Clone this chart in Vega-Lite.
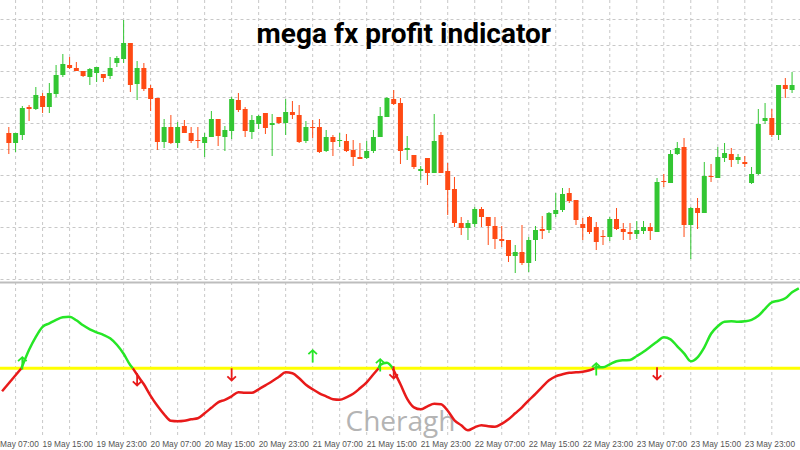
{
"$schema":"https://vega.github.io/schema/vega-lite/v6.json",
"width":800,"height":450,
"autosize":{"type":"none"},
"padding":0,
"background":"#ffffff",
"config":{"view":{"stroke":null}},
"datasets":{
"c":[
{"t":"2020-05-19T10:00","o":1167,"h":1173,"l":1146,"c":1157},
{"t":"2020-05-19T11:00","o":1157,"h":1167,"l":1148,"c":1167},
{"t":"2020-05-19T12:00","o":1165,"h":1194,"l":1160,"c":1192},
{"t":"2020-05-19T13:00","o":1193,"h":1195,"l":1179,"c":1191},
{"t":"2020-05-19T14:00","o":1191,"h":1213,"l":1190,"c":1205},
{"t":"2020-05-19T15:00","o":1204,"h":1207,"l":1187,"c":1193},
{"t":"2020-05-19T16:00","o":1193,"h":1217,"l":1187,"c":1207},
{"t":"2020-05-19T17:00","o":1206,"h":1235,"l":1203,"c":1225},
{"t":"2020-05-19T18:00","o":1225,"h":1246,"l":1223,"c":1236},
{"t":"2020-05-19T19:00","o":1235,"h":1243,"l":1231,"c":1232},
{"t":"2020-05-19T20:00","o":1232,"h":1238,"l":1229,"c":1229},
{"t":"2020-05-19T21:00","o":1229,"h":1229,"l":1223,"c":1224},
{"t":"2020-05-19T22:00","o":1223,"h":1232,"l":1215,"c":1231},
{"t":"2020-05-19T23:00","o":1227,"h":1233,"l":1218,"c":1233},
{"t":"2020-05-20T00:00","o":1226,"h":1226,"l":1218,"c":1222},
{"t":"2020-05-20T01:00","o":1224,"h":1243,"l":1221,"c":1232},
{"t":"2020-05-20T02:00","o":1237,"h":1244,"l":1233,"c":1242},
{"t":"2020-05-20T03:00","o":1241,"h":1280,"l":1237,"c":1257},
{"t":"2020-05-20T04:00","o":1257,"h":1257,"l":1208,"c":1215},
{"t":"2020-05-20T05:00","o":1216,"h":1239,"l":1200,"c":1232},
{"t":"2020-05-20T06:00","o":1232,"h":1237,"l":1209,"c":1211},
{"t":"2020-05-20T07:00","o":1212,"h":1215,"l":1189,"c":1201},
{"t":"2020-05-20T08:00","o":1202,"h":1202,"l":1150,"c":1158},
{"t":"2020-05-20T09:00","o":1158,"h":1181,"l":1152,"c":1173},
{"t":"2020-05-20T10:00","o":1173,"h":1185,"l":1156,"c":1157},
{"t":"2020-05-20T11:00","o":1157,"h":1178,"l":1152,"c":1173},
{"t":"2020-05-20T12:00","o":1174,"h":1180,"l":1167,"c":1167},
{"t":"2020-05-20T13:00","o":1167,"h":1173,"l":1157,"c":1159},
{"t":"2020-05-20T14:00","o":1160,"h":1173,"l":1152,"c":1159},
{"t":"2020-05-20T15:00","o":1157,"h":1167,"l":1143,"c":1163},
{"t":"2020-05-20T16:00","o":1163,"h":1189,"l":1163,"c":1181},
{"t":"2020-05-20T17:00","o":1181,"h":1181,"l":1154,"c":1164},
{"t":"2020-05-20T18:00","o":1163,"h":1174,"l":1149,"c":1170},
{"t":"2020-05-20T19:00","o":1169,"h":1203,"l":1161,"c":1201},
{"t":"2020-05-20T20:00","o":1200,"h":1207,"l":1188,"c":1190},
{"t":"2020-05-20T21:00","o":1191,"h":1193,"l":1163,"c":1169},
{"t":"2020-05-20T22:00","o":1168,"h":1185,"l":1161,"c":1180},
{"t":"2020-05-20T23:00","o":1176,"h":1185,"l":1171,"c":1184},
{"t":"2020-05-21T00:00","o":1187,"h":1187,"l":1166,"c":1172},
{"t":"2020-05-21T01:00","o":1175,"h":1186,"l":1144,"c":1177},
{"t":"2020-05-21T02:00","o":1183,"h":1183,"l":1176,"c":1177},
{"t":"2020-05-21T03:00","o":1177,"h":1201,"l":1165,"c":1188},
{"t":"2020-05-21T04:00","o":1188,"h":1199,"l":1181,"c":1185},
{"t":"2020-05-21T05:00","o":1185,"h":1195,"l":1157,"c":1158},
{"t":"2020-05-21T06:00","o":1159,"h":1179,"l":1157,"c":1173},
{"t":"2020-05-21T07:00","o":1173,"h":1180,"l":1162,"c":1172},
{"t":"2020-05-21T08:00","o":1173,"h":1181,"l":1147,"c":1148},
{"t":"2020-05-21T09:00","o":1149,"h":1170,"l":1148,"c":1163},
{"t":"2020-05-21T10:00","o":1163,"h":1165,"l":1144,"c":1158},
{"t":"2020-05-21T11:00","o":1159,"h":1167,"l":1153,"c":1160},
{"t":"2020-05-21T12:00","o":1159,"h":1166,"l":1148,"c":1149},
{"t":"2020-05-21T13:00","o":1150,"h":1160,"l":1134,"c":1143},
{"t":"2020-05-21T14:00","o":1143,"h":1157,"l":1141,"c":1141},
{"t":"2020-05-21T15:00","o":1142,"h":1159,"l":1141,"c":1149},
{"t":"2020-05-21T16:00","o":1149,"h":1170,"l":1147,"c":1163},
{"t":"2020-05-21T17:00","o":1163,"h":1193,"l":1163,"c":1184},
{"t":"2020-05-21T18:00","o":1183,"h":1203,"l":1183,"c":1202},
{"t":"2020-05-21T19:00","o":1201,"h":1210,"l":1195,"c":1196},
{"t":"2020-05-21T20:00","o":1197,"h":1202,"l":1136,"c":1149},
{"t":"2020-05-21T21:00","o":1150,"h":1164,"l":1140,"c":1152},
{"t":"2020-05-21T22:00","o":1145,"h":1145,"l":1131,"c":1133},
{"t":"2020-05-21T23:00","o":1129,"h":1134,"l":1120,"c":1131},
{"t":"2020-05-22T00:00","o":1142,"h":1142,"l":1115,"c":1127},
{"t":"2020-05-22T01:00","o":1127,"h":1186,"l":1127,"c":1159},
{"t":"2020-05-22T02:00","o":1165,"h":1168,"l":1127,"c":1127},
{"t":"2020-05-22T03:00","o":1129,"h":1137,"l":1085,"c":1110},
{"t":"2020-05-22T04:00","o":1111,"h":1123,"l":1073,"c":1077},
{"t":"2020-05-22T05:00","o":1077,"h":1083,"l":1065,"c":1072},
{"t":"2020-05-22T06:00","o":1072,"h":1080,"l":1060,"c":1077},
{"t":"2020-05-22T07:00","o":1076,"h":1093,"l":1073,"c":1091},
{"t":"2020-05-22T08:00","o":1091,"h":1093,"l":1073,"c":1083},
{"t":"2020-05-22T09:00","o":1083,"h":1083,"l":1055,"c":1074},
{"t":"2020-05-22T10:00","o":1074,"h":1083,"l":1051,"c":1061},
{"t":"2020-05-22T11:00","o":1061,"h":1074,"l":1053,"c":1059},
{"t":"2020-05-22T12:00","o":1060,"h":1060,"l":1038,"c":1044},
{"t":"2020-05-22T13:00","o":1044,"h":1055,"l":1027,"c":1048},
{"t":"2020-05-22T14:00","o":1048,"h":1075,"l":1035,"c":1037},
{"t":"2020-05-22T15:00","o":1037,"h":1063,"l":1028,"c":1060},
{"t":"2020-05-22T16:00","o":1060,"h":1074,"l":1039,"c":1070},
{"t":"2020-05-22T17:00","o":1071,"h":1084,"l":1061,"c":1069},
{"t":"2020-05-22T18:00","o":1070,"h":1088,"l":1067,"c":1087},
{"t":"2020-05-22T19:00","o":1086,"h":1107,"l":1083,"c":1090},
{"t":"2020-05-22T20:00","o":1090,"h":1112,"l":1088,"c":1106},
{"t":"2020-05-22T21:00","o":1107,"h":1112,"l":1097,"c":1099},
{"t":"2020-05-22T22:00","o":1100,"h":1100,"l":1075,"c":1080},
{"t":"2020-05-22T23:00","o":1076,"h":1082,"l":1060,"c":1072},
{"t":"2020-05-23T00:00","o":1083,"h":1084,"l":1066,"c":1068},
{"t":"2020-05-23T01:00","o":1073,"h":1078,"l":1050,"c":1058},
{"t":"2020-05-23T02:00","o":1064,"h":1070,"l":1055,"c":1063},
{"t":"2020-05-23T03:00","o":1063,"h":1083,"l":1059,"c":1081},
{"t":"2020-05-23T04:00","o":1081,"h":1092,"l":1070,"c":1071},
{"t":"2020-05-23T05:00","o":1071,"h":1077,"l":1060,"c":1068},
{"t":"2020-05-23T06:00","o":1068,"h":1077,"l":1060,"c":1066},
{"t":"2020-05-23T07:00","o":1066,"h":1079,"l":1061,"c":1070},
{"t":"2020-05-23T08:00","o":1069,"h":1079,"l":1066,"c":1073},
{"t":"2020-05-23T09:00","o":1073,"h":1077,"l":1060,"c":1069},
{"t":"2020-05-23T10:00","o":1068,"h":1122,"l":1068,"c":1118},
{"t":"2020-05-23T11:00","o":1119,"h":1126,"l":1113,"c":1118},
{"t":"2020-05-23T12:00","o":1117,"h":1150,"l":1117,"c":1146},
{"t":"2020-05-23T13:00","o":1146,"h":1158,"l":1145,"c":1152},
{"t":"2020-05-23T14:00","o":1153,"h":1162,"l":1063,"c":1075},
{"t":"2020-05-23T15:00","o":1075,"h":1093,"l":1041,"c":1092},
{"t":"2020-05-23T16:00","o":1092,"h":1102,"l":1071,"c":1087},
{"t":"2020-05-23T17:00","o":1087,"h":1138,"l":1087,"c":1124},
{"t":"2020-05-23T18:00","o":1124,"h":1136,"l":1118,"c":1123},
{"t":"2020-05-23T19:00","o":1122,"h":1153,"l":1122,"c":1143},
{"t":"2020-05-23T20:00","o":1142,"h":1157,"l":1138,"c":1147},
{"t":"2020-05-23T21:00","o":1146,"h":1152,"l":1133,"c":1140},
{"t":"2020-05-23T22:00","o":1140,"h":1146,"l":1136,"c":1143},
{"t":"2020-05-23T23:00","o":1138,"h":1144,"l":1133,"c":1136},
{"t":"2020-05-24T00:00","o":1117,"h":1133,"l":1116,"c":1126},
{"t":"2020-05-24T01:00","o":1126,"h":1191,"l":1125,"c":1176},
{"t":"2020-05-24T02:00","o":1179,"h":1197,"l":1176,"c":1182},
{"t":"2020-05-24T03:00","o":1182,"h":1191,"l":1163,"c":1165},
{"t":"2020-05-24T04:00","o":1165,"h":1215,"l":1160,"c":1215},
{"t":"2020-05-24T05:00","o":1215,"h":1222,"l":1202,"c":1211},
{"t":"2020-05-24T06:00","o":1210,"h":1228,"l":1207,"c":1215}
],
"i":[
{"t":"2020-05-19T09:00","v":-0.23,"s":"A","d":"dn"},
{"t":"2020-05-19T11:52","v":0,"s":"A","d":"dn"},
{"t":"2020-05-19T11:52","v":0,"s":"B","d":"up"},
{"t":"2020-05-19T13:00","v":0.185,"s":"B","d":"up"},
{"t":"2020-05-19T14:00","v":0.315,"s":"B","d":"up"},
{"t":"2020-05-19T15:00","v":0.415,"s":"B","d":"up"},
{"t":"2020-05-19T16:00","v":0.45,"s":"B","d":"up"},
{"t":"2020-05-19T17:00","v":0.485,"s":"B","d":"up"},
{"t":"2020-05-19T18:00","v":0.51,"s":"B","d":"up"},
{"t":"2020-05-19T19:00","v":0.515,"s":"B","d":"up"},
{"t":"2020-05-19T20:00","v":0.48,"s":"B","d":"up"},
{"t":"2020-05-19T21:00","v":0.43,"s":"B","d":"up"},
{"t":"2020-05-19T22:00","v":0.39,"s":"B","d":"up"},
{"t":"2020-05-19T23:00","v":0.36,"s":"B","d":"up"},
{"t":"2020-05-20T00:00","v":0.335,"s":"B","d":"up"},
{"t":"2020-05-20T01:00","v":0.30,"s":"B","d":"up"},
{"t":"2020-05-20T02:00","v":0.235,"s":"B","d":"up"},
{"t":"2020-05-20T03:00","v":0.145,"s":"B","d":"up"},
{"t":"2020-05-20T04:00","v":0.03,"s":"B","d":"up"},
{"t":"2020-05-20T04:22","v":0,"s":"B","d":"up"},
{"t":"2020-05-20T04:22","v":0,"s":"C","d":"dn"},
{"t":"2020-05-20T05:00","v":-0.065,"s":"C","d":"dn"},
{"t":"2020-05-20T06:00","v":-0.16,"s":"C","d":"dn"},
{"t":"2020-05-20T07:00","v":-0.275,"s":"C","d":"dn"},
{"t":"2020-05-20T08:00","v":-0.375,"s":"C","d":"dn"},
{"t":"2020-05-20T09:00","v":-0.46,"s":"C","d":"dn"},
{"t":"2020-05-20T10:00","v":-0.525,"s":"C","d":"dn"},
{"t":"2020-05-20T11:00","v":-0.53,"s":"C","d":"dn"},
{"t":"2020-05-20T12:00","v":-0.525,"s":"C","d":"dn"},
{"t":"2020-05-20T13:00","v":-0.51,"s":"C","d":"dn"},
{"t":"2020-05-20T14:00","v":-0.50,"s":"C","d":"dn"},
{"t":"2020-05-20T15:00","v":-0.45,"s":"C","d":"dn"},
{"t":"2020-05-20T16:00","v":-0.395,"s":"C","d":"dn"},
{"t":"2020-05-20T17:00","v":-0.34,"s":"C","d":"dn"},
{"t":"2020-05-20T18:00","v":-0.315,"s":"C","d":"dn"},
{"t":"2020-05-20T19:00","v":-0.28,"s":"C","d":"dn"},
{"t":"2020-05-20T20:00","v":-0.24,"s":"C","d":"dn"},
{"t":"2020-05-20T21:00","v":-0.245,"s":"C","d":"dn"},
{"t":"2020-05-20T22:00","v":-0.245,"s":"C","d":"dn"},
{"t":"2020-05-20T23:00","v":-0.21,"s":"C","d":"dn"},
{"t":"2020-05-21T00:00","v":-0.17,"s":"C","d":"dn"},
{"t":"2020-05-21T01:00","v":-0.13,"s":"C","d":"dn"},
{"t":"2020-05-21T02:00","v":-0.085,"s":"C","d":"dn"},
{"t":"2020-05-21T03:00","v":-0.04,"s":"C","d":"dn"},
{"t":"2020-05-21T04:00","v":-0.05,"s":"C","d":"dn"},
{"t":"2020-05-21T05:00","v":-0.10,"s":"C","d":"dn"},
{"t":"2020-05-21T06:00","v":-0.165,"s":"C","d":"dn"},
{"t":"2020-05-21T07:00","v":-0.21,"s":"C","d":"dn"},
{"t":"2020-05-21T08:00","v":-0.25,"s":"C","d":"dn"},
{"t":"2020-05-21T09:00","v":-0.28,"s":"C","d":"dn"},
{"t":"2020-05-21T10:00","v":-0.31,"s":"C","d":"dn"},
{"t":"2020-05-21T11:00","v":-0.315,"s":"C","d":"dn"},
{"t":"2020-05-21T12:00","v":-0.29,"s":"C","d":"dn"},
{"t":"2020-05-21T13:00","v":-0.255,"s":"C","d":"dn"},
{"t":"2020-05-21T14:00","v":-0.20,"s":"C","d":"dn"},
{"t":"2020-05-21T15:00","v":-0.14,"s":"C","d":"dn"},
{"t":"2020-05-21T16:00","v":-0.06,"s":"C","d":"dn"},
{"t":"2020-05-21T16:46","v":0,"s":"C","d":"dn"},
{"t":"2020-05-21T16:46","v":0,"s":"D","d":"up"},
{"t":"2020-05-21T17:00","v":0.035,"s":"D","d":"up"},
{"t":"2020-05-21T18:00","v":0.055,"s":"D","d":"up"},
{"t":"2020-05-21T18:52","v":0,"s":"D","d":"up"},
{"t":"2020-05-21T18:52","v":0,"s":"E","d":"dn"},
{"t":"2020-05-21T19:00","v":-0.02,"s":"E","d":"dn"},
{"t":"2020-05-21T20:00","v":-0.16,"s":"E","d":"dn"},
{"t":"2020-05-21T21:00","v":-0.305,"s":"E","d":"dn"},
{"t":"2020-05-21T22:00","v":-0.39,"s":"E","d":"dn"},
{"t":"2020-05-21T23:00","v":-0.41,"s":"E","d":"dn"},
{"t":"2020-05-22T00:00","v":-0.38,"s":"E","d":"dn"},
{"t":"2020-05-22T01:00","v":-0.355,"s":"E","d":"dn"},
{"t":"2020-05-22T02:00","v":-0.36,"s":"E","d":"dn"},
{"t":"2020-05-22T03:00","v":-0.425,"s":"E","d":"dn"},
{"t":"2020-05-22T04:00","v":-0.52,"s":"E","d":"dn"},
{"t":"2020-05-22T05:00","v":-0.57,"s":"E","d":"dn"},
{"t":"2020-05-22T06:00","v":-0.62,"s":"E","d":"dn"},
{"t":"2020-05-22T07:00","v":-0.59,"s":"E","d":"dn"},
{"t":"2020-05-22T08:00","v":-0.57,"s":"E","d":"dn"},
{"t":"2020-05-22T09:00","v":-0.58,"s":"E","d":"dn"},
{"t":"2020-05-22T10:00","v":-0.585,"s":"E","d":"dn"},
{"t":"2020-05-22T11:00","v":-0.555,"s":"E","d":"dn"},
{"t":"2020-05-22T12:00","v":-0.51,"s":"E","d":"dn"},
{"t":"2020-05-22T13:00","v":-0.45,"s":"E","d":"dn"},
{"t":"2020-05-22T14:00","v":-0.39,"s":"E","d":"dn"},
{"t":"2020-05-22T15:00","v":-0.32,"s":"E","d":"dn"},
{"t":"2020-05-22T16:00","v":-0.255,"s":"E","d":"dn"},
{"t":"2020-05-22T17:00","v":-0.185,"s":"E","d":"dn"},
{"t":"2020-05-22T18:00","v":-0.12,"s":"E","d":"dn"},
{"t":"2020-05-22T19:00","v":-0.08,"s":"E","d":"dn"},
{"t":"2020-05-22T20:00","v":-0.06,"s":"E","d":"dn"},
{"t":"2020-05-22T21:00","v":-0.045,"s":"E","d":"dn"},
{"t":"2020-05-22T22:00","v":-0.04,"s":"E","d":"dn"},
{"t":"2020-05-22T23:00","v":-0.035,"s":"E","d":"dn"},
{"t":"2020-05-23T00:00","v":-0.02,"s":"E","d":"dn"},
{"t":"2020-05-23T00:42","v":0,"s":"E","d":"dn"},
{"t":"2020-05-23T00:42","v":0,"s":"F","d":"up"},
{"t":"2020-05-23T01:00","v":0.01,"s":"F","d":"up"},
{"t":"2020-05-23T02:00","v":0.01,"s":"F","d":"up"},
{"t":"2020-05-23T03:00","v":0.04,"s":"F","d":"up"},
{"t":"2020-05-23T04:00","v":0.07,"s":"F","d":"up"},
{"t":"2020-05-23T05:00","v":0.08,"s":"F","d":"up"},
{"t":"2020-05-23T06:00","v":0.083,"s":"F","d":"up"},
{"t":"2020-05-23T07:00","v":0.123,"s":"F","d":"up"},
{"t":"2020-05-23T08:00","v":0.165,"s":"F","d":"up"},
{"t":"2020-05-23T09:00","v":0.215,"s":"F","d":"up"},
{"t":"2020-05-23T10:00","v":0.265,"s":"F","d":"up"},
{"t":"2020-05-23T11:00","v":0.31,"s":"F","d":"up"},
{"t":"2020-05-23T12:00","v":0.29,"s":"F","d":"up"},
{"t":"2020-05-23T13:00","v":0.22,"s":"F","d":"up"},
{"t":"2020-05-23T14:00","v":0.15,"s":"F","d":"up"},
{"t":"2020-05-23T15:00","v":0.07,"s":"F","d":"up"},
{"t":"2020-05-23T16:00","v":0.11,"s":"F","d":"up"},
{"t":"2020-05-23T17:00","v":0.21,"s":"F","d":"up"},
{"t":"2020-05-23T18:00","v":0.345,"s":"F","d":"up"},
{"t":"2020-05-23T19:00","v":0.42,"s":"F","d":"up"},
{"t":"2020-05-23T20:00","v":0.465,"s":"F","d":"up"},
{"t":"2020-05-23T21:00","v":0.47,"s":"F","d":"up"},
{"t":"2020-05-23T22:00","v":0.465,"s":"F","d":"up"},
{"t":"2020-05-23T23:00","v":0.47,"s":"F","d":"up"},
{"t":"2020-05-24T00:00","v":0.485,"s":"F","d":"up"},
{"t":"2020-05-24T01:00","v":0.525,"s":"F","d":"up"},
{"t":"2020-05-24T02:00","v":0.595,"s":"F","d":"up"},
{"t":"2020-05-24T03:00","v":0.66,"s":"F","d":"up"},
{"t":"2020-05-24T04:00","v":0.675,"s":"F","d":"up"},
{"t":"2020-05-24T05:00","v":0.70,"s":"F","d":"up"},
{"t":"2020-05-24T06:00","v":0.76,"s":"F","d":"up"},
{"t":"2020-05-24T07:00","v":0.80,"s":"F","d":"up"}
],
"a":[
{"t":"2020-05-19T12:00","v":0.05,"d":"up"},
{"t":"2020-05-20T05:00","v":-0.11,"d":"dn"},
{"t":"2020-05-20T19:00","v":-0.06,"d":"dn"},
{"t":"2020-05-21T07:00","v":0.12,"d":"up"},
{"t":"2020-05-21T17:00","v":0.03,"d":"up"},
{"t":"2020-05-21T19:00","v":-0.04,"d":"dn"},
{"t":"2020-05-23T01:00","v":-0.01,"d":"up"},
{"t":"2020-05-23T10:00","v":-0.05,"d":"dn"}
],
"g":[
{"t":"2020-05-19T11:00"},{"t":"2020-05-19T15:00"},{"t":"2020-05-19T19:00"},{"t":"2020-05-19T23:00"},
{"t":"2020-05-20T03:00"},{"t":"2020-05-20T07:00"},{"t":"2020-05-20T11:00"},{"t":"2020-05-20T15:00"},{"t":"2020-05-20T19:00"},{"t":"2020-05-20T23:00"},
{"t":"2020-05-21T03:00"},{"t":"2020-05-21T07:00"},{"t":"2020-05-21T11:00"},{"t":"2020-05-21T15:00"},{"t":"2020-05-21T19:00"},{"t":"2020-05-21T23:00"},
{"t":"2020-05-22T03:00"},{"t":"2020-05-22T07:00"},{"t":"2020-05-22T11:00"},{"t":"2020-05-22T15:00"},{"t":"2020-05-22T19:00"},{"t":"2020-05-22T23:00"},
{"t":"2020-05-23T03:00"},{"t":"2020-05-23T07:00"},{"t":"2020-05-23T11:00"},{"t":"2020-05-23T15:00"},{"t":"2020-05-23T19:00"},{"t":"2020-05-23T23:00"},
{"t":"2020-05-24T03:00"}
],
"lab":[
{"t":"2020-05-19T07:00"},{"t":"2020-05-19T15:00"},{"t":"2020-05-19T23:00"},
{"t":"2020-05-20T07:00"},{"t":"2020-05-20T15:00"},{"t":"2020-05-20T23:00"},
{"t":"2020-05-21T07:00"},{"t":"2020-05-21T15:00"},{"t":"2020-05-21T23:00"},
{"t":"2020-05-22T07:00"},{"t":"2020-05-22T15:00"},{"t":"2020-05-22T23:00"},
{"t":"2020-05-23T07:00"},{"t":"2020-05-23T15:00"},{"t":"2020-05-23T23:00"}
]
},
"layer":[
{
"data":{"name":"g"},
"mark":{"type":"rule","color":"#c8c8c8","strokeWidth":1,"strokeDash":[3,3]},
"encoding":{
"x":{"field":"t","type":"temporal","axis":null,
"scale":{"domain":[{"year":2020,"month":5,"date":19,"hours":9,"minutes":26},{"year":2020,"month":5,"date":24,"hours":6,"minutes":26}],"nice":false}},
"y":{"datum":3.683,"type":"quantitative","scale":{"domain":[-0.817,3.683],"nice":false,"zero":false},"axis":null},
"y2":{"datum":-0.687}
}
},
{
"data":{"name":"c"},
"mark":{"type":"rule","strokeWidth":1},
"encoding":{
"x":{"field":"t","type":"temporal","axis":null},
"y":{"field":"l","type":"quantitative","scale":{"domain":[850,1300],"nice":false,"zero":false},
"axis":{"title":null,"labels":false,"ticks":false,"domain":false,"grid":true,"gridDash":[3,3],"gridColor":"#c8c8c8","gridWidth":1,
"values":[1281,1255,1229,1203,1177,1151,1125,1099,1073,1047,1021]}},
"y2":{"field":"h"},
"color":{"condition":{"test":"datum.c >= datum.o","value":"#33c633"},"value":"#ff4a14"}
}
},
{
"data":{"name":"c"},
"mark":{"type":"bar","size":5},
"encoding":{
"x":{"field":"t","type":"temporal","axis":null},
"y":{"field":"o","type":"quantitative","scale":{"domain":[850,1300],"nice":false,"zero":false},"axis":null},
"y2":{"field":"c"},
"color":{"condition":{"test":"datum.c >= datum.o","value":"#33c633"},"value":"#ff4a14"}
}
},
{
"data":{"values":[{}]},
"mark":{"type":"rule","color":"#bdbdbd","strokeWidth":2},
"encoding":{"y":{"datum":0.858,"type":"quantitative","scale":{"domain":[-0.817,3.683],"nice":false,"zero":false},"axis":null}}
},
{
"data":{"values":[{}]},
"mark":{"type":"rule","color":"#ffff00","strokeWidth":3},
"encoding":{"y":{"datum":0,"type":"quantitative","scale":{"domain":[-0.817,3.683],"nice":false,"zero":false},"axis":null}}
},
{
"data":{"name":"lab"},
"mark":{"type":"text","font":"Liberation Sans","fontSize":8.3,"color":"#555555","align":"left","baseline":"top","dy":2.5},
"encoding":{
"x":{"field":"t","type":"temporal","axis":null},
"y":{"datum":-0.687,"type":"quantitative","scale":{"domain":[-0.817,3.683],"nice":false,"zero":false},"axis":null},
"text":{"field":"t","type":"temporal","format":"%d %b %H:%M"}
}
},
{
"data":{"values":[{"label":"Cheragh"}]},
"mark":{"type":"text","font":"Open Sans","fontSize":28,"color":"#b4b4b4","align":"center","baseline":"middle"},
"encoding":{
"x":{"datum":{"year":2020,"month":5,"date":21,"hours":20},"type":"temporal","axis":null},
"y":{"datum":-0.547,"type":"quantitative","scale":{"domain":[-0.817,3.683],"nice":false,"zero":false},"axis":null},
"text":{"field":"label"}
}
},
{
"data":{"name":"i"},
"mark":{"type":"line","strokeWidth":2.5,"interpolate":"monotone","clip":true},
"encoding":{
"x":{"field":"t","type":"temporal","axis":null},
"y":{"field":"v","type":"quantitative","scale":{"domain":[-0.817,3.683],"nice":false,"zero":false},"axis":null},
"color":{"field":"d","type":"nominal","scale":{"domain":["up","dn"],"range":["#26e626","#e81a1a"]},"legend":null},
"detail":{"field":"s"}
}
},
{
"data":{"name":"a"},
"mark":{"type":"point","filled":false,"strokeWidth":1.8,"size":150,"opacity":1},
"encoding":{
"x":{"field":"t","type":"temporal","axis":null},
"y":{"field":"v","type":"quantitative","scale":{"domain":[-0.817,3.683],"nice":false,"zero":false},"axis":null},
"color":{"field":"d","type":"nominal","legend":null},
"shape":{"field":"d","type":"nominal","scale":{"domain":["up","dn"],"range":["M0,1L0,-1M-0.7,-0.35L0,-1L0.7,-0.35","M0,-1L0,1M-0.7,0.35L0,1L0.7,0.35"]},"legend":null}
}
},
{
"data":{"values":[{"label":"mega fx profit indicator"}]},
"mark":{"type":"text","font":"Roboto","fontSize":28,"fontWeight":"bold","color":"#000000","align":"center","baseline":"alphabetic"},
"encoding":{
"x":{"datum":{"year":2020,"month":5,"date":21,"hours":20,"minutes":30},"type":"temporal","axis":null},
"y":{"datum":3.253,"type":"quantitative","scale":{"domain":[-0.817,3.683],"nice":false,"zero":false},"axis":null},
"text":{"field":"label"}
}
}
],
"resolve":{"scale":{"y":"independent"}}
}
